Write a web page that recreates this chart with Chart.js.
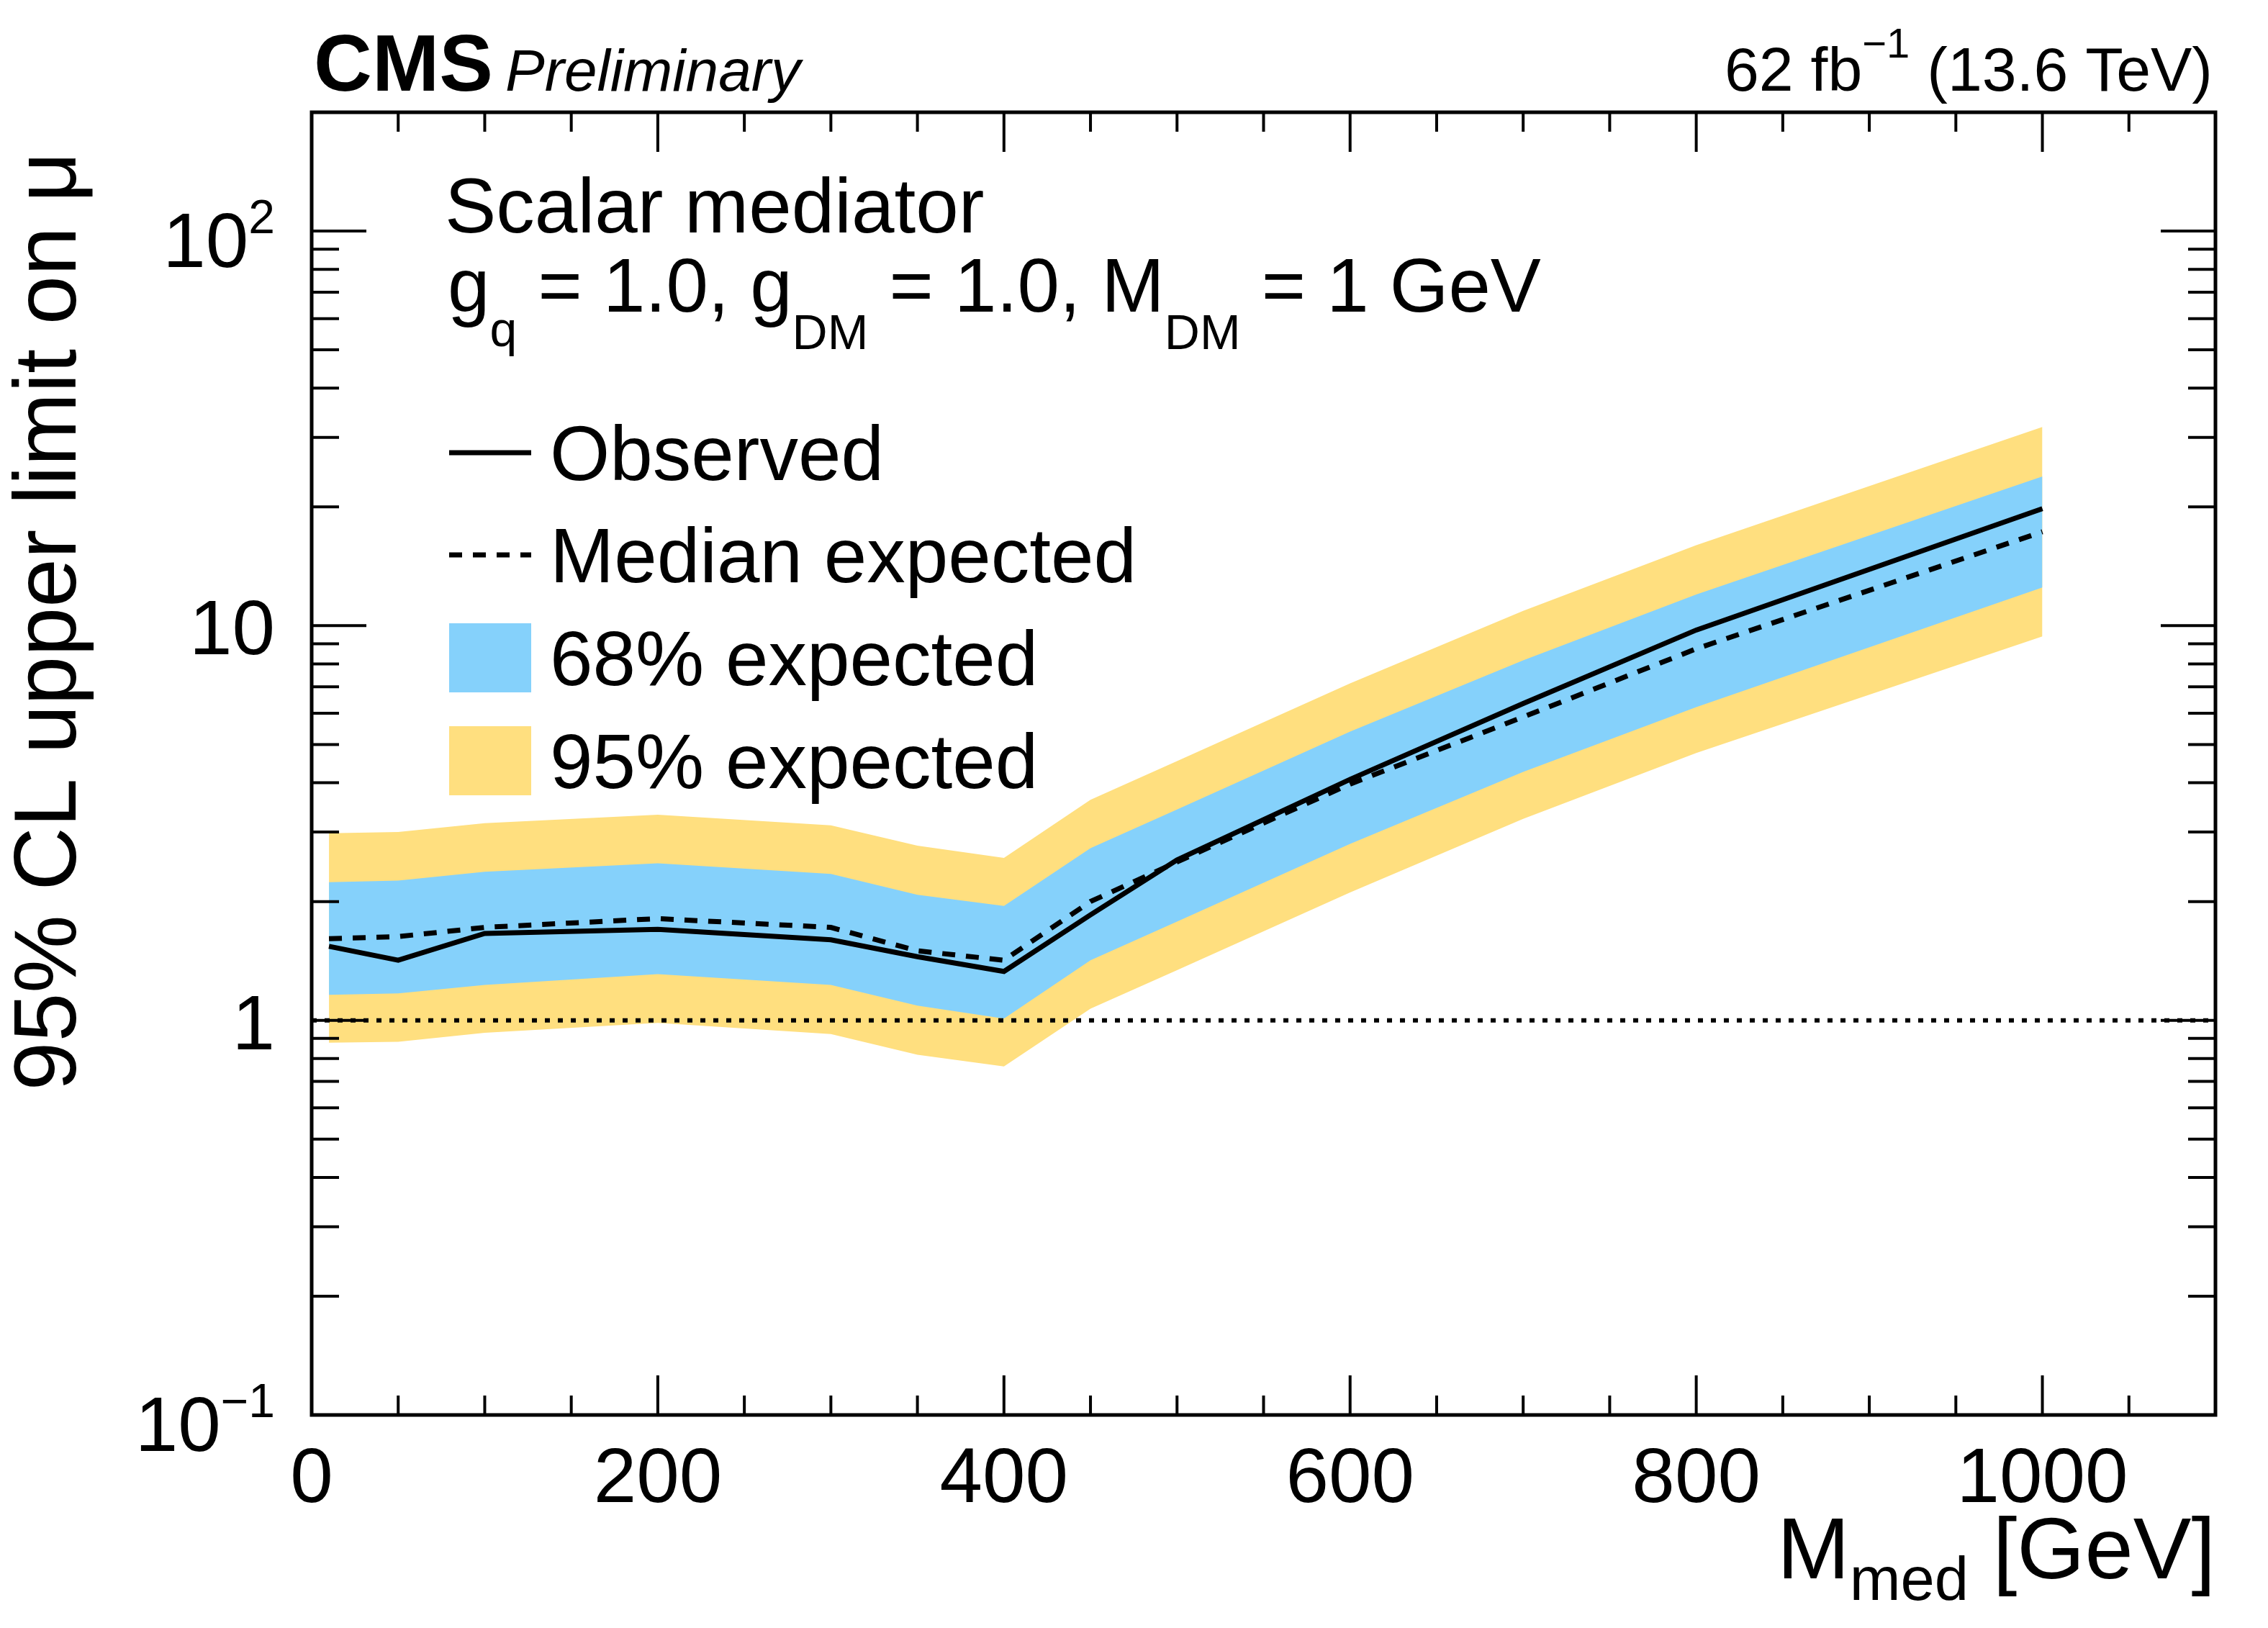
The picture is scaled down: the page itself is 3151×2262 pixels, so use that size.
<!DOCTYPE html>
<html>
<head>
<meta charset="utf-8">
<script src="https://cdn.jsdelivr.net/npm/chart.js"></script>
<style>
  html, body { margin: 0; padding: 0; background: #ffffff; }
  canvas { display: block; }
</style>
</head>
<body>
<canvas id="c" width="3151" height="2262" style="width:3151px;height:2262px"></canvas>
<script>
// ---------------- data ----------------
const massPoints = [10, 50, 100, 200, 300, 350, 400, 450, 500, 600, 700, 800, 1000];
const observedLimit = [1.54, 1.42, 1.66, 1.70, 1.60, 1.45, 1.33, 1.85, 2.55, 4.08, 6.35, 9.75, 19.8];
const expectedLimit = [1.61, 1.63, 1.72, 1.81, 1.72, 1.50, 1.42, 2.00, 2.52, 3.97, 5.87, 8.74, 17.3];
const band68Up   = [2.24, 2.26, 2.38, 2.50, 2.35, 2.08, 1.95, 2.73, 3.42, 5.39, 8.17, 12.0, 23.9];
const band68Down = [1.16, 1.17, 1.23, 1.31, 1.23, 1.09, 1.01, 1.42, 1.78, 2.80, 4.26, 6.22, 12.5];
const band95Up   = [2.98, 3.00, 3.16, 3.32, 3.12, 2.77, 2.58, 3.62, 4.54, 7.14, 10.9, 16.0, 31.9];
const band95Down = [0.878, 0.882, 0.93, 0.985, 0.923, 0.818, 0.764, 1.07, 1.34, 2.11, 3.24, 4.76, 9.39];
const unityX = [0, 1100];
const unityY = [1, 1];

const xTickValues = [0, 200, 400, 600, 800, 1000];
const xTickLabels = ['0', '200', '400', '600', '800', '1000'];
const yTickValues = [0.1, 1, 10, 100];
const yTickBase = ['10', '1', '10', '10'];
const yTickExp  = ['\u22121', '', '', '2'];

const legendLabels = ['Observed', 'Median expected', '68% expected', '95% expected'];

// ---------------- helpers ----------------
const FONT = "'Liberation Sans', Arial, Helvetica, sans-serif";
function font(size, style) { return (style ? style + ' ' : '') + size + 'px ' + FONT; }
function pts(xs, ys) { return xs.map((x, i) => ({ x: x, y: ys[i] })); }
function drawRich(ctx, x, y, segs, align) {
  let total = 0;
  segs.forEach(s => { ctx.font = font(s.size, s.style); s.w = ctx.measureText(s.text).width; total += s.w; });
  let cx = align === 'right' ? x - total : x;
  segs.forEach(s => { ctx.font = font(s.size, s.style); ctx.fillText(s.text, cx, y + (s.dy || 0)); cx += s.w; });
  return total;
}

const BLUE = '#85D1FB';
const YELLOW = '#FFDF7F';

const decorations = {
  id: 'rootStyle',
  afterDraw(chart) {
    const ctx = chart.ctx;
    const a = chart.chartArea;
    const xs = chart.scales.x, ys = chart.scales.y;
    ctx.save();
    ctx.fillStyle = '#000';
    ctx.strokeStyle = '#000';
    ctx.textAlign = 'left';
    ctx.textBaseline = 'alphabetic';

    // frame
    ctx.lineWidth = 5;
    ctx.strokeRect(a.left, a.top, a.right - a.left, a.bottom - a.top);

    // x ticks (inside, bottom and top)
    ctx.lineWidth = 4;
    for (let v = 0; v <= 1100; v += 50) {
      const px = xs.getPixelForValue(v);
      const len = (v % 200 === 0) ? 55 : 27;
      ctx.beginPath();
      ctx.moveTo(px, a.bottom); ctx.lineTo(px, a.bottom - len);
      ctx.moveTo(px, a.top); ctx.lineTo(px, a.top + len);
      ctx.stroke();
    }
    // y ticks (inside, left and right)
    for (let d = -1; d <= 2; d++) {
      for (let m = 1; m <= 9; m++) {
        const v = m * Math.pow(10, d);
        if (v < 0.1 - 1e-9 || v > 200 + 1e-9) continue;
        const py = ys.getPixelForValue(v);
        const len = (m === 1) ? 76 : 38;
        ctx.beginPath();
        ctx.moveTo(a.left, py); ctx.lineTo(a.left + len, py);
        ctx.moveTo(a.right, py); ctx.lineTo(a.right - len, py);
        ctx.stroke();
      }
    }

    // x tick labels
    ctx.font = font(107);
    ctx.textAlign = 'center';
    xTickValues.forEach((v, i) => {
      ctx.fillText(xTickLabels[i], xs.getPixelForValue(v), a.bottom + 121);
    });
    ctx.textAlign = 'left';

    // y tick labels
    const yLabRight = a.left - 51;
    yTickValues.forEach((v, i) => {
      const py = ys.getPixelForValue(v);
      if (yTickExp[i]) {
        drawRich(ctx, yLabRight, py + 50, [
          { text: yTickBase[i], size: 107 },
          { text: yTickExp[i], size: 66, dy: -47 }
        ], 'right');
      } else {
        drawRich(ctx, yLabRight, py + 40, [{ text: yTickBase[i], size: 107 }], 'right');
      }
    });

    // axis titles
    drawRich(ctx, a.right, 2193, [
      { text: 'M', size: 121 },
      { text: 'med', size: 85, dy: 30 },
      { text: ' [GeV]', size: 121 }
    ], 'right');

    ctx.save();
    ctx.translate(105, 211);
    ctx.rotate(-Math.PI / 2);
    ctx.font = font(122);
    ctx.textAlign = 'right';
    ctx.fillText('95% CL upper limit on \u03BC', 0, 0);
    ctx.restore();
    ctx.textAlign = 'left';

    // CMS label
    ctx.font = font(112, 'bold');
    ctx.fillText('CMS', 436, 126);
    ctx.font = font(82, 'italic');
    ctx.fillText('Preliminary', 702, 126);

    // luminosity label
    drawRich(ctx, 3074, 126, [
      { text: '62 fb', size: 86 },
      { text: '\u22121', size: 58, dy: -46 },
      { text: ' (13.6 TeV)', size: 86 }
    ], 'right');

    // header text
    ctx.font = font(107);
    ctx.fillText('Scalar mediator', 618, 323);
    drawRich(ctx, 622, 433, [
      { text: 'g', size: 105 },
      { text: 'q', size: 68, dy: 48 },
      { text: ' = 1.0, g', size: 105 },
      { text: 'DM', size: 68, dy: 52 },
      { text: ' = 1.0, M', size: 105 },
      { text: 'DM', size: 68, dy: 52 },
      { text: ' = 1 GeV', size: 105 }
    ], 'left');

    // legend
    const rowY = [629, 771, 914, 1057];
    const symL = 624, symR = 738, textX = 764;
    ctx.lineWidth = 7;
    ctx.setLineDash([]);
    ctx.beginPath(); ctx.moveTo(symL, rowY[0]); ctx.lineTo(symR, rowY[0]); ctx.stroke();
    ctx.setLineDash([18, 15]);
    ctx.beginPath(); ctx.moveTo(symL, rowY[1]); ctx.lineTo(symR, rowY[1]); ctx.stroke();
    ctx.setLineDash([]);
    ctx.fillStyle = BLUE;
    ctx.fillRect(symL, rowY[2] - 48, symR - symL, 96);
    ctx.fillStyle = YELLOW;
    ctx.fillRect(symL, rowY[3] - 48, symR - symL, 96);
    ctx.fillStyle = '#000';
    ctx.font = font(107);
    legendLabels.forEach((t, i) => ctx.fillText(t, textX, rowY[i] + 38));

    ctx.restore();
  }
};

const common = { pointRadius: 0, pointHoverRadius: 0, tension: 0 };

new Chart(document.getElementById('c'), {
  type: 'line',
  data: {
    datasets: [
      Object.assign({ label: '95% up', data: pts(massPoints, band95Up), borderWidth: 0, borderColor: 'rgba(0,0,0,0)',
        backgroundColor: YELLOW, fill: 1, order: 10 }, common),
      Object.assign({ label: '95% down', data: pts(massPoints, band95Down), borderWidth: 0, borderColor: 'rgba(0,0,0,0)',
        fill: false, order: 10 }, common),
      Object.assign({ label: '68% up', data: pts(massPoints, band68Up), borderWidth: 0, borderColor: 'rgba(0,0,0,0)',
        backgroundColor: BLUE, fill: 3, order: 8 }, common),
      Object.assign({ label: '68% down', data: pts(massPoints, band68Down), borderWidth: 0, borderColor: 'rgba(0,0,0,0)',
        fill: false, order: 8 }, common),
      Object.assign({ label: 'unity', data: pts(unityX, unityY), borderWidth: 6, borderColor: '#000',
        borderDash: [7, 11], fill: false, order: 5 }, common),
      Object.assign({ label: 'Median expected', data: pts(massPoints, expectedLimit), borderWidth: 7, borderColor: '#000',
        borderDash: [18, 15], fill: false, order: 2 }, common),
      Object.assign({ label: 'Observed', data: pts(massPoints, observedLimit), borderWidth: 7, borderColor: '#000',
        fill: false, order: 1 }, common)
    ]
  },
  options: {
    responsive: false,
    devicePixelRatio: 1,
    animation: false,
    events: [],
    layout: { padding: { left: 433, right: 73, top: 156, bottom: 296 } },
    scales: {
      x: { type: 'linear', min: 0, max: 1100, display: false },
      y: { type: 'logarithmic', min: 0.1, max: 200, display: false }
    },
    plugins: {
      legend: { display: false },
      tooltip: { enabled: false },
      filler: { propagate: false }
    }
  },
  plugins: [decorations]
});
</script>
</body>
</html>
